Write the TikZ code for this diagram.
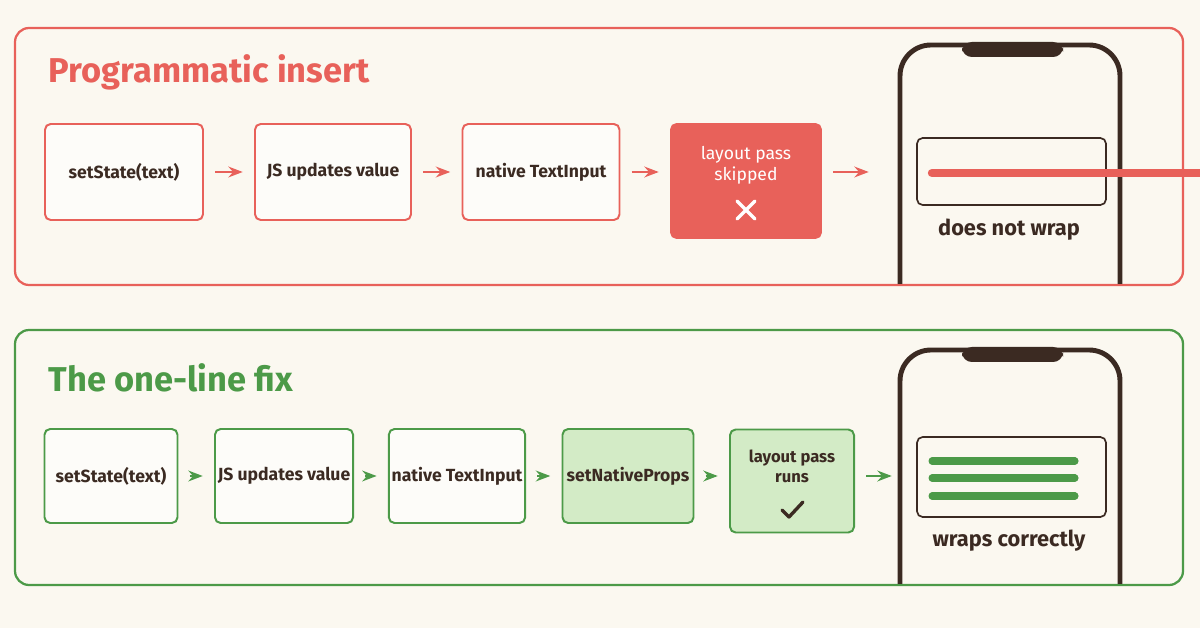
\documentclass[tikz,border=0pt]{standalone}
\usepackage{fontspec}
\setmainfont{Fira Sans}
\usetikzlibrary{arrows.meta}
\definecolor{bg}{HTML}{FBF8F0}
\definecolor{redc}{HTML}{E8615A}
\definecolor{greenc}{HTML}{4C9A48}
\definecolor{greenf}{HTML}{D3EBC6}
\definecolor{ink}{HTML}{3B2A22}
\tikzset{>=Stealth,
  step/.style={draw=#1, rounded corners=4pt, line width=1.4pt, fill=white!60!bg, align=center, inner xsep=2pt, font=\fontsize{12.5}{15}\selectfont\bfseries, text=ink},
  flow/.style={->, line width=1.6pt, draw=#1, shorten >=8pt, shorten <=8pt},
  phone/.style={draw=ink, line width=3.5pt, rounded corners=22pt},
  field/.style={draw=ink, line width=1.2pt, rounded corners=4pt},
  glyph/.style={line width=2.4pt, line cap=round, line join=round},
}
\begin{document}
\begin{tikzpicture}[x=0.025cm,y=-0.025cm]
\fill[bg] (0,0) rectangle (1200,628);
\useasboundingbox (0,0) rectangle (1200,628);

% Top panel
\draw[redc, line width=1.6pt, rounded corners=10pt] (15,28) rectangle (1183,285);
\node[anchor=west, text=redc, font=\fontsize{24.5}{28}\selectfont\bfseries] (t1) at (44,72) {Programmatic insert};
\node[step=redc, minimum width=158*0.025cm, minimum height=96*0.025cm] (a1) at (124,172) {setState(text)};
\node[step=redc, minimum width=156*0.025cm, minimum height=96*0.025cm] (a2) at (333,172) {JS updates value};
\node[step=redc, minimum width=157*0.025cm, minimum height=96*0.025cm] (a3) at (541,172) {native TextInput};
\node[step=redc, fill=redc, minimum width=150*0.025cm, minimum height=114*0.025cm] (a4) at (746,181) {};
\node[text=white, align=center, font=\fontsize{12.5}{15}\selectfont\mdseries] at (746,165) {layout pass\\skipped};
\draw[glyph, white] (737,201) -- (755,219) (755,201) -- (737,219);
\coordinate (a5) at (880,172);
\draw[flow=redc] (a1) -- (a2);
\draw[flow=redc] (a2) -- (a3);
\draw[flow=redc] (a3) -- (a4.west|-a3);
\draw[flow=redc] (a4.east|-a3) -- (a5);

% Top phone
\draw[phone] (900,285) -- (900,45) -- (1120,45) -- (1120,285);
\fill[ink, rounded corners=7pt] (962,42) -- (962,57) -- (1063,57) -- (1063,42) -- cycle;
\draw[field] (917,138) rectangle (1106,205);
\draw[redc, line width=6pt, line cap=round] (932,173) -- (1205,173);
\node[text=ink, font=\fontsize{15.5}{18}\selectfont\bfseries] (l1) at (1009,230) {does not wrap};
\draw[redc, line width=1.6pt] (880,285) -- (1140,285);

% Bottom panel
\draw[greenc, line width=1.6pt, rounded corners=10pt] (15,330) rectangle (1183,585);
\node[anchor=west, text=greenc, font=\fontsize{24.5}{28}\selectfont\bfseries] (t2) at (44,378) {The one-line fix};
\begin{scope}[every node/.append style={font=\fontsize{11.8}{14}\selectfont\bfseries}]
\node[step=greenc, minimum width=133*0.025cm, minimum height=94*0.025cm] (b1) at (111,476) {setState(text)};
\node[step=greenc, minimum width=131*0.025cm, minimum height=94*0.025cm] (b2) at (284,476) {JS updates value};
\node[step=greenc, minimum width=130*0.025cm, minimum height=94*0.025cm] (b3) at (457,476) {native TextInput};
\node[step=greenc, fill=greenf, minimum width=131*0.025cm, minimum height=94*0.025cm] (b4) at (628,476) {setNativeProps};
\node[step=greenc, fill=greenf, minimum width=124*0.025cm, minimum height=103*0.025cm] (b5) at (792,481) {};
\node[text=ink, align=center] at (792,466) {layout pass\\runs};
\end{scope}
\draw[glyph, ink] (782,510) -- (789,517) -- (803,502);
\coordinate (b6) at (903,476);
\draw[flow=greenc] (b1) -- (b2);
\draw[flow=greenc] (b2) -- (b3);
\draw[flow=greenc] (b3) -- (b4);
\draw[flow=greenc] (b4) -- (b5.west|-b4);
\draw[flow=greenc] (b5.east|-b4) -- (b6);

% Bottom phone
\draw[phone] (900,585) -- (900,350) -- (1120,350) -- (1120,585);
\fill[ink, rounded corners=7pt] (962,347) -- (962,362) -- (1063,362) -- (1063,347) -- cycle;
\draw[field] (917,437) rectangle (1106,517);
\foreach \yy in {461,478,496}
  \draw[greenc, line width=5pt, line cap=round] (932,\yy) -- (1075,\yy);
\node[text=ink, font=\fontsize{15.5}{18}\selectfont\bfseries] (l2) at (1009,541) {wraps correctly};
\draw[greenc, line width=1.6pt] (880,585) -- (1140,585);
\end{tikzpicture}
\end{document}
